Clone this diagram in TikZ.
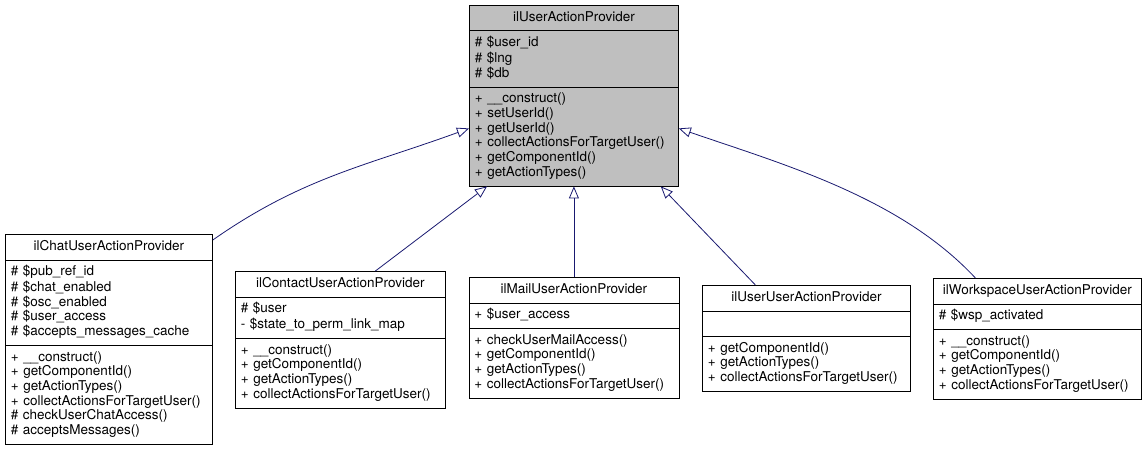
\documentclass[tikz,border=0pt]{standalone}
\usepackage{fontspec}
\setmainfont{TeX Gyre Heros}
\usetikzlibrary{shapes.multipart,arrows.meta}

\definecolor{grey75}{RGB}{191,191,191}
\definecolor{edgeblue}{RGB}{25,25,112}

\newcommand{\rows}[1]{\strut#1\strut}
\newcommand{\ctitle}[1]{\strut\hskip0pt plus1filll #1\hskip0pt plus1filll\strut}

\begin{document}
\begin{tikzpicture}[x=1pt, y=1pt,
  umlclass/.style={rectangle split, rectangle split parts=3, draw=black, line width=0.8pt,
    fill=white, anchor=north west, inner xsep=5.5pt, inner ysep=5pt, align=left,
    font=\fontsize{13.5}{14.7}\selectfont},
  baseclass/.style={umlclass, fill=grey75},
  inherit/.style={draw=edgeblue, line width=0.8pt, -{Triangle[open, length=12pt, width=10pt]}}]
  \useasboundingbox (0,0) rectangle (1147,448);

  % base class
  \node [baseclass, text width=198pt] (p) at (469,443)
    {\ctitle{ilUserActionProvider}
     \nodepart{two}\rows{\# \$user\_id\\ \# \$lng\\ \# \$db}
     \nodepart{three}\rows{+ \_\_construct()\\ + setUserId()\\ + getUserId()\\
       + collectActionsForTargetUser()\\ + getComponentId()\\ + getActionTypes()}};

  % derived classes
  \node [umlclass, text width=196pt] (c) at (5,214)
    {\ctitle{ilChatUserActionProvider}
     \nodepart{two}\rows{\# \$pub\_ref\_id\\ \# \$chat\_enabled\\ \# \$osc\_enabled\\
       \# \$user\_access\\ \# \$accepts\_messages\_cache}
     \nodepart{three}\rows{+ \_\_construct()\\ + getComponentId()\\ + getActionTypes()\\
       + collectActionsForTargetUser()\\ \# checkUserChatAccess()\\ \# acceptsMessages()}};
  \node [umlclass, text width=199pt] (k) at (235,177)
    {\ctitle{ilContactUserActionProvider}
     \nodepart{two}\rows{\# \$user\\ - \$state\_to\_perm\_link\_map}
     \nodepart{three}\rows{+ \_\_construct()\\ + getComponentId()\\ + getActionTypes()\\
       + collectActionsForTargetUser()}};
  \node [umlclass, text width=199pt] (m) at (468.5,171)
    {\ctitle{ilMailUserActionProvider}
     \nodepart{two}\rows{+ \$user\_access}
     \nodepart{three}\rows{+ checkUserMailAccess()\\ + getComponentId()\\ + getActionTypes()\\
       + collectActionsForTargetUser()}};
  \node [umlclass, text width=197pt] (u) at (702,163)
    {\ctitle{ilUserUserActionProvider}
     \nodepart{two}\strut
     \nodepart{three}\rows{+ getComponentId()\\ + getActionTypes()\\
       + collectActionsForTargetUser()}};
  \node [umlclass, text width=197pt] (w) at (933,170)
    {\ctitle{ilWorkspaceUserActionProvider}
     \nodepart{two}\rows{\# \$wsp\_activated}
     \nodepart{three}\rows{+ \_\_construct()\\ + getComponentId()\\ + getActionTypes()\\
       + collectActionsForTargetUser()}};

  % inheritance
  \draw [inherit] ([yshift=-6pt]c.north east) to [out=35, in=200] ([yshift=58pt]p.south west);
  \draw [inherit] ([xshift=35pt]k.north) -- ([xshift=18pt]p.south west);
  \draw [inherit] (m.north) -- (m.north |- p.south);
  \draw [inherit] ([xshift=-51pt]u.north) -- ([xshift=-18pt]p.south east);
  \draw [inherit] ([xshift=-62pt]w.north) to [out=133, in=341, looseness=0.85] ([yshift=58pt]p.south east);
\end{tikzpicture}
\end{document}
